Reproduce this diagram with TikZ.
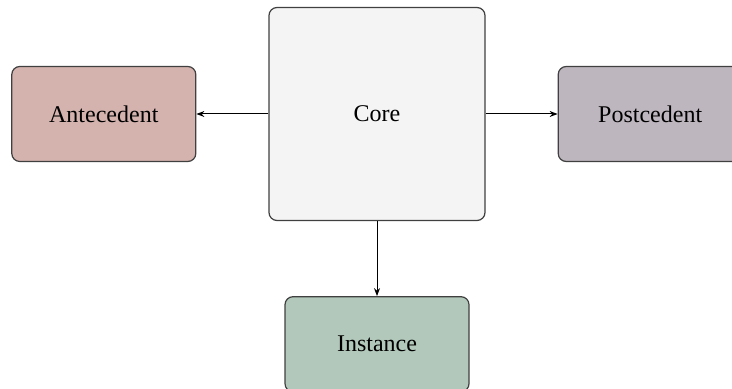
\documentclass[tikz,border=0pt]{standalone}
\usepackage{fontspec}
\setmainfont{Liberation Serif}
\usepackage{xcolor}
\usetikzlibrary{arrows.meta,positioning}
\definecolor{coregray}{HTML}{F4F4F4}
\definecolor{antered}{HTML}{D4B2AE}
\definecolor{postgray}{HTML}{BEB6BE}
\definecolor{instgreen}{HTML}{B2C8BA}
\definecolor{edgegray}{HTML}{404040}

\begin{document}
\begin{tikzpicture}[
  x=0.5pt, y=-0.5pt,
  box/.style={draw=edgegray, line width=0.6pt, rounded corners=4pt, align=center, font=\fontsize{12}{14}\selectfont, minimum width=92pt, minimum height=47.5pt, inner sep=0pt},
  arr/.style={-{Stealth[length=4pt,width=3pt]}, line width=0.5pt}
]
\clip (0,0) rectangle (732,389);
\node[box, fill=coregray, minimum width=108pt, minimum height=106.5pt] (core) at (377,114) {Core};
\node[box, fill=antered, left=36pt of core] (ante) {Antecedent};
\node[box, fill=postgray, right=36pt of core] (post) {Postcedent};
\node[box, fill=instgreen, below=37.5pt of core] (inst) {Instance};
\draw[arr] (core) -- (ante);
\draw[arr] (core) -- (post);
\draw[arr] (core) -- (inst);
\end{tikzpicture}
\end{document}
